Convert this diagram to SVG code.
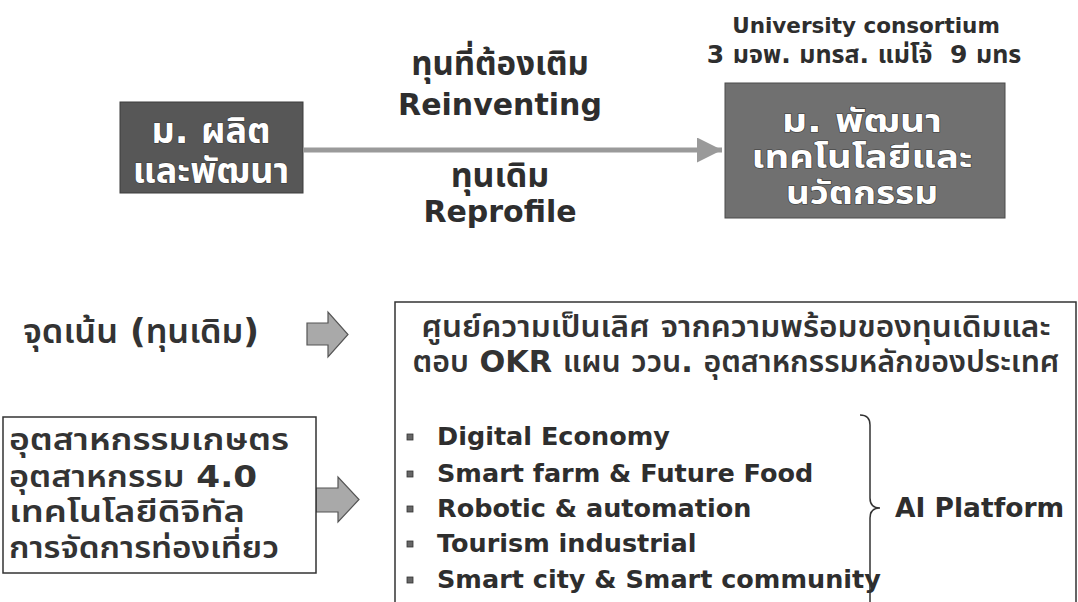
<svg xmlns="http://www.w3.org/2000/svg" width="1078" height="602" viewBox="0 0 1078 602">
<style>
text{font-family:"DejaVu Sans","Noto Sans Thai","Noto Sans",sans-serif;font-weight:bold;fill:#2e2e2e}
.c{text-anchor:middle}
.w{fill:#ffffff;stroke:#3a3a3a;stroke-width:1.2;paint-order:stroke}
.r{font-weight:600;fill:#333}
.box{fill:#ffffff;stroke:#333;stroke-width:1.5}
.blk{fill:#a9a9a9;stroke:#555;stroke-width:1.2}
.bul{fill:#666;stroke:#333;stroke-width:0.8}
.th{font-size:30px}
.en{font-size:25.5px}
</style>
<defs>
<marker id="ah" viewBox="0 0 10 10" refX="10" refY="5" markerWidth="5" markerHeight="5" orient="auto" markerUnits="strokeWidth">
<path d="M0,0 L10,5 L0,10 z" fill="#9a9a9a"/>
</marker>
</defs>
<rect width="1078" height="602" fill="#ffffff"/>

<g id="labels-top">
<text class="c" x="866" y="33" font-size="21.5">University consortium</text>
<text class="c" x="864" y="63" font-size="25" xml:space="preserve">3 มจพ. มทรส. แม่โจ้  9 มทร</text>
<text class="c" x="500" y="75" font-size="33">ทุนที่ต้องเติม</text>
<text class="c" x="500" y="115" font-size="30">Reinventing</text>
<text class="c" x="500" y="187" font-size="34">ทุนเดิม</text>
<text class="c" x="500" y="222" font-size="30">Reprofile</text>
</g>

<g id="node-left">
<rect x="120" y="102" width="183" height="91" fill="#575757" stroke="#3c3c3c" stroke-width="1"/>
<text class="c w" x="211" y="143" font-size="36">ม. ผลิต</text>
<text class="c w" x="211" y="183" font-size="36">และพัฒนา</text>
</g>

<g id="node-right">
<rect x="725" y="83" width="280" height="135" fill="#707070" stroke="#4a4a4a" stroke-width="1"/>
<text class="c w" x="862" y="132" font-size="32" textLength="160" lengthAdjust="spacingAndGlyphs">ม. พัฒนา</text>
<text class="c w" x="862" y="168" font-size="32" textLength="221" lengthAdjust="spacingAndGlyphs">เทคโนโลยีและ</text>
<text class="c w" x="862" y="204" font-size="32" textLength="152" lengthAdjust="spacingAndGlyphs">นวัตกรรม</text>
</g>

<g id="connectors">
<line x1="303" y1="150" x2="722" y2="150" stroke="#9a9a9a" stroke-width="5" marker-end="url(#ah)"/>
<path class="blk" d="M307,323 H328 V312 L348,334.5 L328,357 V345 H307 Z"/>
<path class="blk" d="M316,488 H338 V477 L359,499.5 L338,522 V512 H316 Z"/>
</g>

<g id="focus-label">
<text class="r" x="23" y="343" font-size="33" textLength="236" lengthAdjust="spacingAndGlyphs">จุดเน้น (ทุนเดิม)</text>
</g>

<g id="node-industry">
<rect class="box" x="3" y="417" width="313" height="156"/>
<text class="th r" x="9" y="450" textLength="280" lengthAdjust="spacingAndGlyphs">อุตสาหกรรมเกษตร</text>
<text class="th r" x="9" y="487" textLength="248" lengthAdjust="spacingAndGlyphs">อุตสาหกรรม 4.0</text>
<text class="th r" x="9" y="522" textLength="236" lengthAdjust="spacingAndGlyphs">เทคโนโลยีดิจิทัล</text>
<text class="th r" x="9" y="558" textLength="270" lengthAdjust="spacingAndGlyphs">การจัดการท่องเที่ยว</text>
</g>

<g id="node-excellence">
<path d="M1076,605 V302 H395 V605" fill="#ffffff" stroke="#333" stroke-width="1.5"/>
<text class="c r" x="736" y="337" font-size="30" textLength="629" lengthAdjust="spacingAndGlyphs">ศูนย์ความเป็นเลิศ จากความพร้อมของทุนเดิมและ</text>
<text class="c r" x="736" y="372" font-size="30" textLength="647" lengthAdjust="spacingAndGlyphs">ตอบ OKR แผน ววน. อุตสาหกรรมหลักของประเทศ</text>
<rect class="bul" x="407" y="434" width="6" height="6"/>
<rect class="bul" x="407" y="471" width="6" height="6"/>
<rect class="bul" x="407" y="506" width="6" height="6"/>
<rect class="bul" x="407" y="541" width="6" height="6"/>
<rect class="bul" x="407" y="577" width="6" height="6"/>
<text class="en" x="437" y="445">Digital Economy</text>
<text class="en" x="437" y="482">Smart farm &amp; Future Food</text>
<text class="en" x="437" y="517">Robotic &amp; automation</text>
<text class="en" x="437" y="552">Tourism industrial</text>
<text class="en" x="437" y="588">Smart city &amp; Smart community</text>
<path d="M860,415 Q870,415 870,425 V498 Q870,508 880,508 Q870,508 870,518 V602" fill="none" stroke="#333" stroke-width="1.5"/>
<text x="895" y="517" font-size="26.5">AI Platform</text>
</g>
</svg>
